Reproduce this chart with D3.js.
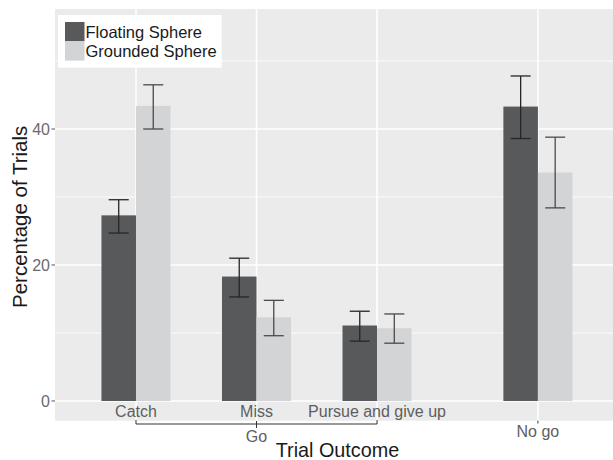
<!DOCTYPE html>
<html>
<head>
<meta charset="utf-8">
<script src="https://cdn.jsdelivr.net/npm/d3@7"></script>
<style>
  html, body { margin: 0; padding: 0; background: #ffffff; }
  svg { display: block; font-family: "Liberation Sans", Arial, Helvetica, sans-serif; }
</style>
</head>
<body>
<svg id="chart" width="613" height="460"></svg>
<script>
// Trial outcome categories and their positions on the x axis
const categories = ["Catch", "Miss", "Pursue and give up", "No go"];
const positions = [1, 2, 3, 4.335];

// Series: percentage of trials with standard-error bounds
const seriesNames = ["Floating Sphere", "Grounded Sphere"];
const floating   = [27.3, 18.3, 11.1, 43.3];
const floatingLo = [24.7, 15.3, 8.8, 38.6];
const floatingHi = [29.6, 21.0, 13.2, 47.8];
const grounded   = [43.4, 12.3, 10.7, 33.6];
const groundedLo = [40.0, 9.6, 8.5, 28.4];
const groundedHi = [46.5, 14.8, 12.8, 38.8];

// Axis ticks
const yTicks = [0, 20, 40];
const yMinor = [10, 30, 50];

// Grouping bracket under the "go" outcomes
const groupLabel = "Go";
const groupMembers = ["Catch", "Miss", "Pursue and give up"];

const colors = ["#58595b", "#d3d4d6"];
const errColors = ["#262626", "#4a4a4a"];

const svg = d3.select("#chart");
const panel = { left: 55, right: 613, top: 9, bottom: 420.7 };

const x = d3.scaleLinear().domain([0.328, 4.958]).range([panel.left, panel.right]);
const y = d3.scaleLinear().domain([-2.9, 57.65]).range([panel.bottom, panel.top]);

const barW = 0.2865; // width of one bar in x units

// Panel background
svg.append("rect")
  .attr("x", panel.left).attr("y", panel.top)
  .attr("width", panel.right - panel.left).attr("height", panel.bottom - panel.top)
  .attr("fill", "#eaebea");

// Gridlines
const grid = svg.append("g");
grid.selectAll("line.minor").data(yMinor).join("line")
  .attr("x1", panel.left).attr("x2", panel.right)
  .attr("y1", d => y(d)).attr("y2", d => y(d))
  .attr("stroke", "#ffffff").attr("stroke-width", 0.8);
grid.selectAll("line.major").data(yTicks).join("line")
  .attr("x1", panel.left).attr("x2", panel.right)
  .attr("y1", d => y(d)).attr("y2", d => y(d))
  .attr("stroke", "#ffffff").attr("stroke-width", 1.5);
grid.selectAll("line.vmajor").data(positions).join("line")
  .attr("x1", d => x(d)).attr("x2", d => x(d))
  .attr("y1", panel.top).attr("y2", panel.bottom)
  .attr("stroke", "#ffffff").attr("stroke-width", 1.5);

// Rows of bar data
const rows = categories.map((c, i) => ({
  cat: c, pos: positions[i],
  vals: [
    { s: 0, v: floating[i], lo: floatingLo[i], hi: floatingHi[i] },
    { s: 1, v: grounded[i], lo: groundedLo[i], hi: groundedHi[i] }
  ]
}));
const bars = rows.flatMap(r => r.vals.map(d => ({ ...d, pos: r.pos })));

// Bars (dodged)
svg.append("g").selectAll("rect").data(bars).join("rect")
  .attr("x", d => x(d.pos - barW + d.s * barW))
  .attr("width", d => x(barW) - x(0))
  .attr("y", d => y(d.v))
  .attr("height", d => y(0) - y(d.v))
  .attr("fill", d => colors[d.s]);

// Error bars
const capHalf = (x(barW) - x(0)) * 0.29;
const eb = svg.append("g").selectAll("g").data(bars).join("g")
  .attr("stroke", d => errColors[d.s]).attr("stroke-width", 1.3)
  .attr("transform", d => `translate(${x(d.pos - barW / 2 + d.s * barW)},0)`);
eb.append("line").attr("x1", 0).attr("x2", 0)
  .attr("y1", d => y(d.hi)).attr("y2", d => y(d.lo));
eb.append("line").attr("x1", -capHalf).attr("x2", capHalf)
  .attr("y1", d => y(d.hi)).attr("y2", d => y(d.hi));
eb.append("line").attr("x1", -capHalf).attr("x2", capHalf)
  .attr("y1", d => y(d.lo)).attr("y2", d => y(d.lo));

// Y axis ticks and labels
const yAxis = svg.append("g");
yAxis.selectAll("line").data(yTicks).join("line")
  .attr("x1", panel.left - 3.5).attr("x2", panel.left)
  .attr("y1", d => y(d)).attr("y2", d => y(d))
  .attr("stroke", "#555555").attr("stroke-width", 1);
yAxis.selectAll("text").data(yTicks).join("text")
  .attr("x", panel.left - 5).attr("y", d => y(d)).attr("dy", "0.36em")
  .attr("text-anchor", "end").attr("font-size", 16).attr("fill", "#6b6b6b")
  .text(d => d);

// Y axis title
svg.append("text")
  .attr("transform", `translate(26.5,${(123 + 310.7) / 2}) rotate(-90)`)
  .attr("text-anchor", "middle").attr("font-size", 20.5).attr("fill", "#1a1a1a")
  .text("Percentage of Trials");

// Category labels: "go" outcomes sit just under the bars, "No go" lower
const groupPos = categories.map((c, i) => groupMembers.includes(c) ? positions[i] : null).filter(p => p !== null);
svg.append("g").selectAll("text").data(rows).join("text")
  .attr("x", d => x(d.pos))
  .attr("y", d => groupMembers.includes(d.cat) ? 416.5 : 436.5)
  .attr("text-anchor", "middle").attr("font-size", 16).attr("fill", "#5e5e5e")
  .text(d => d.cat);

// Bracket grouping the "go" outcomes
const br = svg.append("g").attr("stroke", "#333333").attr("stroke-width", 1).attr("fill", "none");
const gMin = d3.min(groupPos), gMax = d3.max(groupPos);
br.append("line").attr("x1", x(gMin)).attr("x2", x(gMax)).attr("y1", 424).attr("y2", 424);
br.append("line").attr("x1", x(gMin)).attr("x2", x(gMin)).attr("y1", 420).attr("y2", 424);
br.append("line").attr("x1", x(gMax)).attr("x2", x(gMax)).attr("y1", 420).attr("y2", 424);
const gMid = (gMin + gMax) / 2;
br.append("line").attr("x1", x(gMid)).attr("x2", x(gMid)).attr("y1", 421).attr("y2", 428);
// tick above the "No go" label
const noGoPos = positions[categories.indexOf("No go")];
br.append("line").attr("x1", x(noGoPos)).attr("x2", x(noGoPos)).attr("y1", 420.7).attr("y2", 423.5);

svg.append("text")
  .attr("x", x(gMid)).attr("y", 441.5)
  .attr("text-anchor", "middle").attr("font-size", 16).attr("fill", "#5e5e5e")
  .text(groupLabel);

// X axis title
svg.append("text")
  .attr("x", 337.5).attr("y", 457)
  .attr("text-anchor", "middle").attr("font-size", 19.8).attr("fill", "#1a1a1a")
  .text("Trial Outcome");

// Legend
const lg = svg.append("g");
lg.append("rect").attr("x", 58).attr("y", 15).attr("width", 163.7).attr("height", 52.7).attr("fill", "#ffffff");
const keyY = [22, 41.3];
lg.selectAll("rect.key").data(seriesNames).join("rect")
  .attr("class", "key")
  .attr("x", 65).attr("y", (d, i) => keyY[i])
  .attr("width", 19.5).attr("height", 19.3)
  .attr("fill", (d, i) => colors[i]);
lg.selectAll("text").data(seriesNames).join("text")
  .attr("x", 85.5).attr("y", (d, i) => keyY[i] + 15.5)
  .attr("font-size", 16.5).attr("fill", "#1a1a1a")
  .text(d => d);
</script>
</body>
</html>
